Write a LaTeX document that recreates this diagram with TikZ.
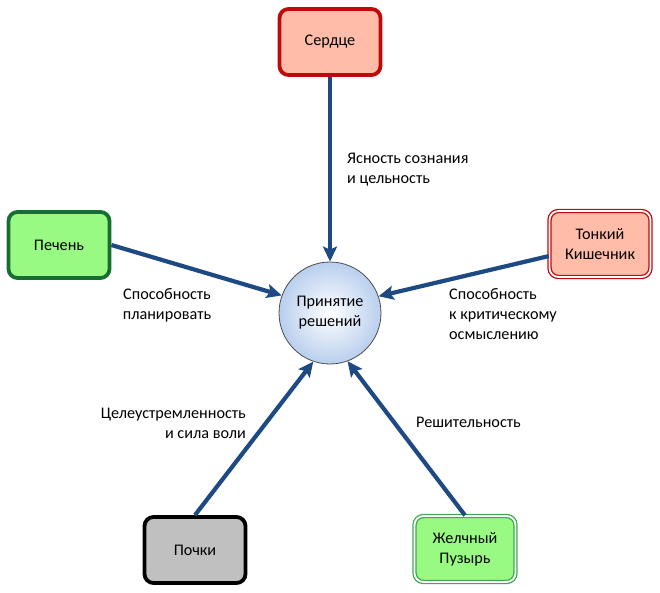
\documentclass[tikz,border=0pt]{standalone}
\usepackage{fontspec}
\setmainfont{Carlito}
\usetikzlibrary{arrows.meta}
\definecolor{heartfill}{RGB}{255,188,168}
\definecolor{heartline}{RGB}{192,10,10}
\definecolor{liverfill}{RGB}{152,250,130}
\definecolor{liverline}{RGB}{22,110,50}
\definecolor{bladline}{RGB}{60,170,80}
\definecolor{kidfill}{RGB}{192,192,192}
\definecolor{arrowblue}{RGB}{30,74,132}
\definecolor{ballblue}{RGB}{185,207,238}

\begin{document}
\begin{tikzpicture}[x=1pt,y=-1pt]
  \tikzset{bx/.style={rounded corners=9pt, line width=3.8pt, minimum width=101pt, minimum height=66pt, align=center, font=\fontsize{16.2}{20}\selectfont},
    dbx/.style={bx, line width=1.3pt, double=white, double distance=1.8pt},
    lbl/.style={inner sep=0pt, font=\fontsize{16.2}{20}\selectfont},
    arr/.style={arrowblue, line width=4.2pt, -{Stealth[length=15pt, width=14pt, inset=3pt]}}}
\useasboundingbox (0,0) rectangle (660,593);
\node[bx, draw=heartline, fill=heartfill] (s) at (330,42) {Сердце};
\node[bx, draw=liverline, fill=liverfill] (p) at (59,245) {Печень};
\node[dbx, draw=heartline, fill=heartfill] (t) at (600,244) {Тонкий\\Кишечник};
\node[bx, draw=black, fill=kidfill] (k) at (195,550) {Почки};
\node[dbx, draw=bladline, fill=liverfill] (g) at (465,549) {Желчный\\Пузырь};
\node[circle, minimum size=102pt, draw=black!70, line width=0.8pt, inner color=white, outer color=ballblue, align=center, font=\fontsize{16.2}{20}\selectfont] (c) at (330,313) {Принятие\\решений};
\draw[arr] (s) -- (c);
\draw[arr] (p.east) -- (c.160);
\draw[arr] (t) -- (c.19);
\draw[arr] (k.north) -- (c.251);
\draw[arr] (g.north) -- (c.290);
\node[lbl, anchor=west, align=left] (l1) at (347,170) {Ясность сознания\\и цельность};
\node[lbl, align=center] (l2) at (167,305) {Способность\\планировать};
\node[lbl, anchor=west, align=left] (l3) at (449,314) {Способность\\к критическому\\осмыслению};
\node[lbl, anchor=east, align=right] (l4) at (246,423) {Целеустремленность\\и сила воли};
\node[lbl, anchor=west] (l5) at (416,422) {Решительность};
\end{tikzpicture}
\end{document}
